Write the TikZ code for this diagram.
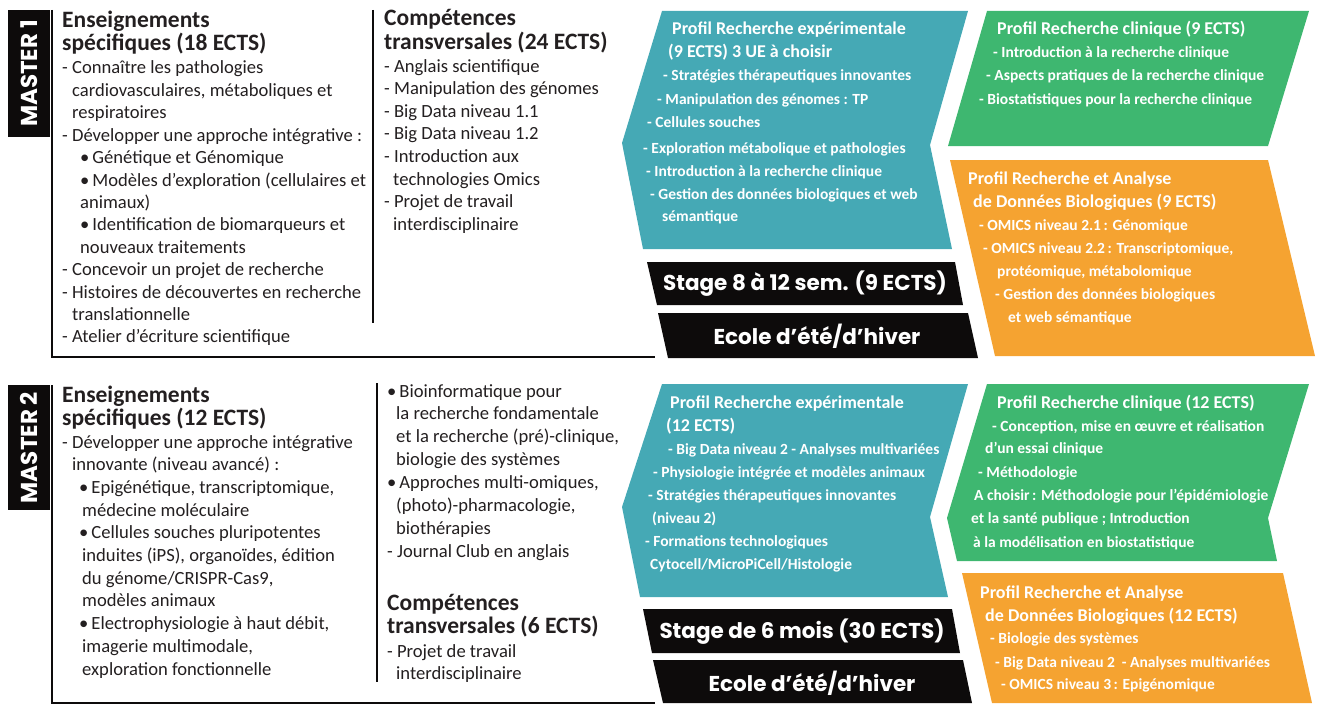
\documentclass[tikz,border=0pt]{standalone}
\usepackage{fontspec}
\setmainfont{Carlito}
\newfontfamily\bannerfont{Poppins}
\usetikzlibrary{positioning}

\definecolor{tealbox}{HTML}{45A9B5}
\definecolor{greenbox}{HTML}{3EB770}
\definecolor{orangebox}{HTML}{F5A331}
\definecolor{inkbox}{HTML}{0D0B0B}
\definecolor{textgrey}{HTML}{231F20}

\newcommand{\bul}{•\hspace{3pt}}

\tikzset{
    frameline/.style={line width=1.1pt, inkbox},
    coltitle/.style={anchor=base west, inner sep=0pt, text=textgrey, font=\fontsize{23.5}{24}\selectfont\bfseries},
    colitem/.style={anchor=base west, inner sep=0pt, text=textgrey, font=\fontsize{18.6}{22}\selectfont},
    boxtitle/.style={anchor=base west, inner sep=0pt, text=white, font=\fontsize{18}{20}\selectfont\bfseries},
    boxitem/.style={anchor=base west, inner sep=0pt, text=white, font=\fontsize{15.5}{20}\selectfont\bfseries},
    bannertext/.style={inner sep=0pt, text=white, font=\bannerfont\bfseries\fontsize{21.5}{22}\selectfont},
    mastertext/.style={inner sep=0pt, text=white, rotate=90, font=\bannerfont\bfseries\fontsize{23}{24}\selectfont}
}

\begin{document}
\begin{tikzpicture}[x=1pt, y=-1pt]
    \useasboundingbox (0,0) rectangle (1332,717);

    % ---------------- MASTER 1
    \fill[inkbox] (8,10) rectangle (50,137);
    \node[mastertext] (lab1) at (29,73.5) {MASTER 1};
    \draw[frameline] (52,10) -- (52,357) -- (655,357);
    \draw[frameline] (373,10) -- (373,323);

    \node[coltitle] (ens1-a) at (62,28) {Enseignements};
    \node[coltitle] (ens1-b) at (62,51) {spécifiques (18 ECTS)};
    \foreach \dx/\t [count=\i] in {
        0/{- Connaître les pathologies},
        10/{cardiovasculaires, métaboliques et},
        10/{respiratoires},
        0/{- Développer une approche intégrative :},
        18/{\bul Génétique et Génomique},
        18/{\bul Modèles d’exploration (cellulaires et},
        18/{animaux)},
        18/{\bul Identification de biomarqueurs et},
        18/{nouveaux traitements},
        0/{- Concevoir un projet de recherche},
        0/{- Histoires de découvertes en recherche},
        10/{translationnelle},
        0/{- Atelier d’écriture scientifique}}
        \node[colitem] (ens1-\i) at ({62+\dx}, {74+(\i-1)*22.4}) {\t};

    \node[coltitle] (comp1-a) at (384,26) {Compétences};
    \node[coltitle] (comp1-b) at (384,50) {transversales (24 ECTS)};
    \foreach \dx/\t [count=\i] in {
        0/{- Anglais scientifique},
        0/{- Manipulation des génomes},
        0/{- Big Data niveau 1.1},
        0/{- Big Data niveau 1.2},
        0/{- Introduction aux},
        9/{technologies Omics},
        0/{- Projet de travail},
        9/{interdisciplinaire}}
        \node[colitem] (comp1-\i) at ({384+\dx}, {72+(\i-1)*22.6}) {\t};

    % profils M1
    \fill[tealbox] (662,11) -- (968,11) -- (930,145) -- (952,249) -- (643,249) -- (622,143) -- cycle;
    \fill[greenbox] (987,11) -- (1309,11) -- (1268,146) -- (948,146) -- cycle;
    \fill[orangebox] (950,160) -- (1268,160) -- (1315,356) -- (995,356) -- cycle;

    \node[boxtitle] (exp1-a) at (672,35) {Profil Recherche expérimentale};
    \node[boxtitle] (exp1-b) at (668,58) {(9 ECTS) 3 UE à choisir};
    \foreach \x/\y/\t [count=\i] in {
        663/81/{- Stratégies thérapeutiques innovantes},
        657/104/{- Manipulation des génomes : TP},
        647/127/{- Cellules souches},
        643/153/{- Exploration métabolique et pathologies},
        646/176/{- Introduction à la recherche clinique},
        650/199/{- Gestion des données biologiques et web},
        662/221/{sémantique}}
        \node[boxitem] (exp1-\i) at (\x,\y) {\t};

    \node[boxtitle] (clin1-a) at (997,35) {Profil Recherche clinique (9 ECTS)};
    \foreach \x/\y/\t [count=\i] in {
        993/58/{- Introduction à la recherche clinique},
        986/81/{- Aspects pratiques de la recherche clinique},
        979/104/{- Biostatistiques pour la recherche clinique}}
        \node[boxitem] (clin1-\i) at (\x,\y) {\t};

    \node[boxtitle] (ana1-a) at (968,184) {Profil Recherche et Analyse};
    \node[boxtitle] (ana1-b) at (973,207) {de Données Biologiques (9 ECTS)};
    \foreach \x/\y/\t [count=\i] in {
        979/230/{- OMICS niveau 2.1\,: Génomique},
        983/253/{- OMICS niveau 2.2\,: Transcriptomique,},
        997/276/{protéomique, métabolomique},
        995/299/{- Gestion des données biologiques},
        1008/322/{et web sémantique}}
        \node[boxitem] (ana1-\i) at (\x,\y) {\t};

    \fill[inkbox] (647,262) -- (955,262) -- (963,305) -- (657,305) -- cycle;
    \fill[inkbox] (658,313) -- (968,313) -- (978,358) -- (668,358) -- cycle;
    \node[bannertext] (stage1) at (805,284) {Stage 8 à 12 sem. (9 ECTS)};
    \node[bannertext] (ecole1) at (817,336) {Ecole d’été/d’hiver};

    % ---------------- MASTER 2
    \fill[inkbox] (8,385) rectangle (50,510);
    \node[mastertext] (lab2) at (29,447.5) {MASTER 2};
    \draw[frameline] (52,385) -- (52,703) -- (655,703);
    \draw[frameline] (377,383) -- (377,682);

    \node[coltitle] (ens2-a) at (62,402) {Enseignements};
    \node[coltitle] (ens2-b) at (62,425) {spécifiques (12 ECTS)};
    \foreach \dx/\t [count=\i] in {
        0/{- Développer une approche intégrative},
        10/{innovante (niveau avancé) :},
        17/{\bul Epigénétique, transcriptomique,},
        20/{médecine moléculaire},
        17/{\bul Cellules souches pluripotentes},
        20/{induites (iPS), organoïdes, édition},
        20/{du génome/CRISPR-Cas9,},
        20/{modèles animaux},
        17/{\bul Electrophysiologie à haut débit,},
        20/{imagerie multimodale,},
        20/{exploration fonctionnelle}}
        \node[colitem] (ens2-\i) at ({62+\dx}, {448+(\i-1)*22.7}) {\t};

    \foreach \dx/\t [count=\i] in {
        0/{\bul Bioinformatique pour},
        9/{la recherche fondamentale},
        9/{et la recherche (pré)-clinique,},
        9/{biologie des systèmes},
        0/{\bul Approches multi-omiques,},
        9/{(photo)-pharmacologie,},
        9/{biothérapies},
        0/{- Journal Club en anglais}}
        \node[colitem] (bio2-\i) at ({387+\dx}, {397+(\i-1)*22.9}) {\t};
    \node[coltitle] (comp2-a) at (387,610) {Compétences};
    \node[coltitle] (comp2-b) at (387,633) {transversales (6 ECTS)};
    \node[colitem] (comp2-1) at (387,657) {- Projet de travail};
    \node[colitem] (comp2-2) at (396,679) {interdisciplinaire};

    % profils M2
    \fill[tealbox] (662,384) -- (968,384) -- (930,517) -- (948,597) -- (640,597) -- (622,507) -- cycle;
    \fill[greenbox] (987,384) -- (1309,384) -- (1268,518) -- (1277,561) -- (957,561) -- (947,518) -- cycle;
    \fill[orangebox] (962,573) -- (1283,573) -- (1312,703) -- (992,703) -- cycle;

    \node[boxtitle] (exp2-a) at (670,408) {Profil Recherche expérimentale};
    \node[boxtitle] (exp2-b) at (666,431) {(12 ECTS)};
    \foreach \x/\y/\t [count=\i] in {
        668/454/{- Big Data niveau 2 - Analyses multivariées},
        653/477/{- Physiologie intégrée et modèles animaux},
        648/500/{- Stratégies thérapeutiques innovantes},
        652/523/{(niveau 2)},
        645/546/{- Formations technologiques},
        650/569/{Cytocell/MicroPiCell/Histologie}}
        \node[boxitem] (exp2-\i) at (\x,\y) {\t};

    \node[boxtitle] (clin2-a) at (997,408) {Profil Recherche clinique (12 ECTS)};
    \foreach \x/\y/\t [count=\i] in {
        992/431/{- Conception, mise en œuvre et réalisation},
        985/453/{d’un essai clinique},
        978/477/{- Méthodologie},
        974/500/{A choisir\,: Méthodologie pour l’épidémiologie},
        971/523/{et la santé publique ; Introduction},
        973/547/{à la modélisation en biostatistique}}
        \node[boxitem] (clin2-\i) at (\x,\y) {\t};

    \node[boxtitle] (ana2-a) at (980,598) {Profil Recherche et Analyse};
    \node[boxtitle] (ana2-b) at (985,621) {de Données Biologiques (12 ECTS)};
    \foreach \x/\y/\t [count=\i] in {
        990/643/{- Biologie des systèmes},
        995/667/{- Big Data niveau 2 \ - Analyses multivariées},
        1001/689/{- OMICS niveau 3\,: Epigénomique}}
        \node[boxitem] (ana2-\i) at (\x,\y) {\t};

    \fill[inkbox] (643,609) -- (952,609) -- (960,653) -- (652,653) -- cycle;
    \fill[inkbox] (653,660) -- (963,660) -- (972,703) -- (663,703) -- cycle;
    \node[bannertext] (stage2) at (802,632) {Stage de 6 mois (30 ECTS)};
    \node[bannertext] (ecole2) at (812,683) {Ecole d’été/d’hiver};
\end{tikzpicture}
\end{document}
